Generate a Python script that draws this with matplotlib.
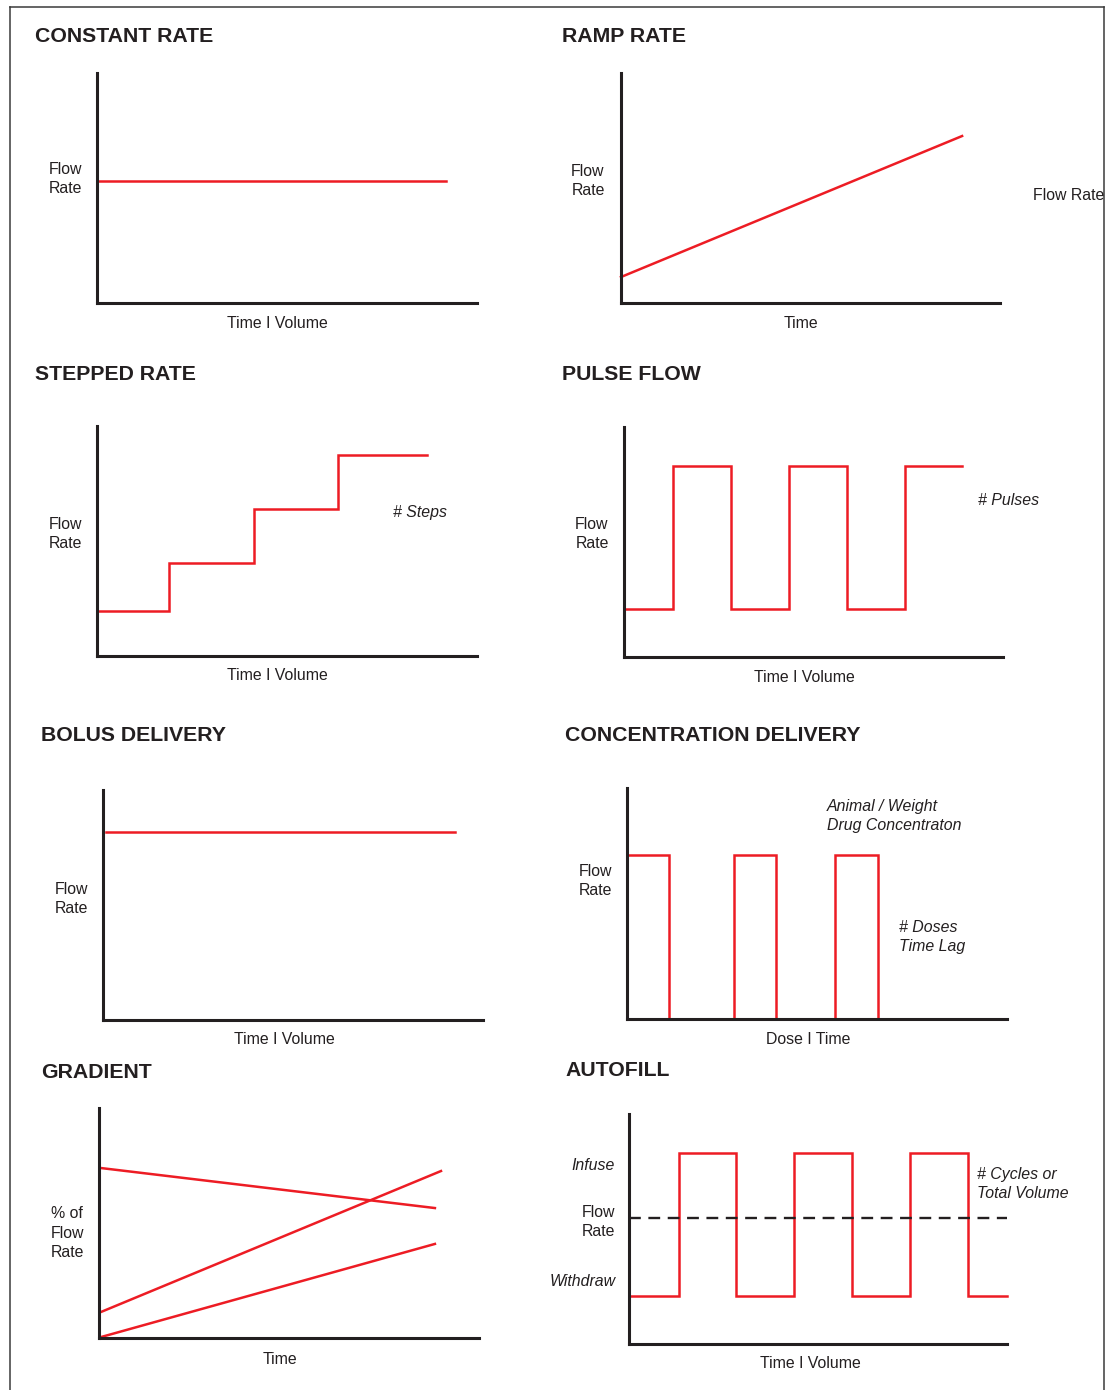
import matplotlib
matplotlib.use("Agg")
import matplotlib.pyplot as plt
from matplotlib.lines import Line2D

plt.rcParams['font.family'] = ['Liberation Sans', 'DejaVu Sans']

W, H = 1106, 1390
RED = '#ed1c24'
DARK = '#231f20'

# Data (all panels use 0-100 units on both axes)
constant_x = [0, 91.8]
constant_y = [53.0, 53.0]

ramp_x = [0, 90.0]
ramp_y = [11.3, 72.6]

step_edges = [0, 18.9, 41.3, 63.4, 86.8]
step_levels = [19.6, 40.4, 63.9, 87.4]

pulse_edges = [0, 12.9, 28.2, 43.5, 58.8, 74.1, 89.2]
pulse_levels = [20.9, 83.0, 20.9, 83.0, 20.9, 83.0]

bolus_x = [0.8, 92.6]
bolus_y = [81.7, 81.7]

dose_starts = [0, 28.2, 54.7]
dose_ends = [11.1, 39.2, 66.1]
dose_high = 71.0

gradient_x = [[0.5, 88.4], [0.5, 90.0], [0.5, 88.4]]
gradient_y = [[73.9, 56.5], [11.3, 72.6], [0.4, 40.9]]

autofill_edges = [0, 13.2, 28.3, 43.7, 59.0, 74.3, 89.7, 100]
autofill_levels = [20.9, 83.0, 20.9, 83.0, 20.9, 83.0, 20.9]
autofill_set = 54.8


def fx(x):
    return x / W


def fy(y):
    return 1 - y / H


def panel(fig, left, top, right, bottom):
    ax = fig.add_axes([fx(left), fy(bottom), (right - left) / W, (bottom - top) / H])
    ax.set_xlim(0, 100)
    ax.set_ylim(0, 100)
    ax.set_xticks([])
    ax.set_yticks([])
    ax.patch.set_alpha(0)
    for s in ['top', 'right']:
        ax.spines[s].set_visible(False)
    for s in ['left', 'bottom']:
        ax.spines[s].set_linewidth(2.2)
        ax.spines[s].set_color(DARK)
        ax.spines[s].set_capstyle('projecting')
    return ax


def steps(edges, levels):
    xs, ys = [], []
    for i, lv in enumerate(levels):
        xs += [edges[i], edges[i + 1]]
        ys += [lv, lv]
    return xs, ys


def txt(fig, x, y, s, ha='center', size=11.4, **kw):
    fig.text(fx(x), fy(y + 2), s, ha=ha, va='center', fontsize=size, color=DARK,
             linespacing=1.38, **kw)


def title(fig, x, y, s):
    fig.text(fx(x), fy(y + 2), s, ha='left', va='center', fontsize=15.3,
             fontweight='bold', color=DARK)


fig = plt.figure(figsize=(W / 100, H / 100), dpi=100)

lkw = dict(color=RED, lw=1.8, clip_on=False, solid_joinstyle='miter')

# CONSTANT RATE
title(fig, 35, 35, 'CONSTANT RATE')
ax = panel(fig, 97, 73, 477, 303)
ax.plot(constant_x, constant_y, **lkw)
txt(fig, 65, 177, 'Flow\nRate')
txt(fig, 277, 322, 'Time I Volume')

# RAMP RATE
title(fig, 562, 35, 'RAMP RATE')
ax = panel(fig, 621, 73, 1000, 303)
ax.plot(ramp_x, ramp_y, **lkw)
txt(fig, 588, 179, 'Flow\nRate')
txt(fig, 801, 322, 'Time')
txt(fig, 1033, 193, 'Flow Rate', ha='left')

# STEPPED RATE
title(fig, 35, 373, 'STEPPED RATE')
ax = panel(fig, 97, 426, 477, 656)
xs, ys = steps(step_edges, step_levels)
ax.plot(xs, ys, **lkw)
txt(fig, 65, 532, 'Flow\nRate')
txt(fig, 420, 510, '# Steps', style='italic')
txt(fig, 277, 674, 'Time I Volume')

# PULSE FLOW
title(fig, 562, 373, 'PULSE FLOW')
ax = panel(fig, 624, 427, 1003, 657)
xs, ys = steps(pulse_edges, pulse_levels)
ax.plot(xs, ys, **lkw)
txt(fig, 592, 532, 'Flow\nRate')
txt(fig, 978, 499, '# Pulses', ha='left', style='italic')
txt(fig, 804, 675, 'Time I Volume')

# BOLUS DELIVERY
title(fig, 41, 733, 'BOLUS DELIVERY')
ax = panel(fig, 103, 790, 483, 1020)
ax.plot(bolus_x, bolus_y, **lkw)
txt(fig, 71, 897, 'Flow\nRate')
txt(fig, 284, 1038, 'Time I Volume')

# CONCENTRATION DELIVERY
title(fig, 565, 733, 'CONCENTRATION DELIVERY')
ax = panel(fig, 627, 788, 1007, 1019)
for a, b in zip(dose_starts, dose_ends):
    ax.plot([a, a, b, b], [0, dose_high, dose_high, 0], **lkw)
txt(fig, 595, 879, 'Flow\nRate')
txt(fig, 827, 814, 'Animal / Weight\nDrug Concentraton', ha='left', style='italic')
txt(fig, 899, 935, '# Doses\nTime Lag', ha='left', style='italic')
txt(fig, 808, 1037, 'Dose I Time')

# GRADIENT
title(fig, 41, 1070, 'GRADIENT')
ax = panel(fig, 99, 1108, 479, 1338)
for gx, gy in zip(gradient_x, gradient_y):
    ax.plot(gx, gy, **lkw)
txt(fig, 67, 1231, '% of\nFlow\nRate')
txt(fig, 280, 1357, 'Time')

# AUTOFILL
title(fig, 565, 1069, 'AUTOFILL')
ax = panel(fig, 629, 1114, 1007, 1344)
xs, ys = steps(autofill_edges, autofill_levels)
ax.plot(xs, ys, **lkw)
ax.axhline(autofill_set, color=DARK, lw=1.7, ls=(0, (5, 3.2)), clip_on=False)
txt(fig, 615, 1163, 'Infuse', ha='right', style='italic')
txt(fig, 615, 1220, 'Flow\nRate', ha='right')
txt(fig, 616, 1280, 'Withdraw', ha='right', style='italic')
txt(fig, 977, 1182, '# Cycles or\nTotal Volume', ha='left', style='italic')
txt(fig, 810, 1362, 'Time I Volume')

# outer frame
for (x0, y0, x1, y1) in [(10, 7, 10, 1390), (10, 7, 1104, 7), (1104, 7, 1104, 1390)]:
    fig.add_artist(Line2D([fx(x0), fx(x1)], [fy(y0), fy(y1)], color='#3a3a3a', lw=1.1))

fig.savefig('out.png', dpi=100)
